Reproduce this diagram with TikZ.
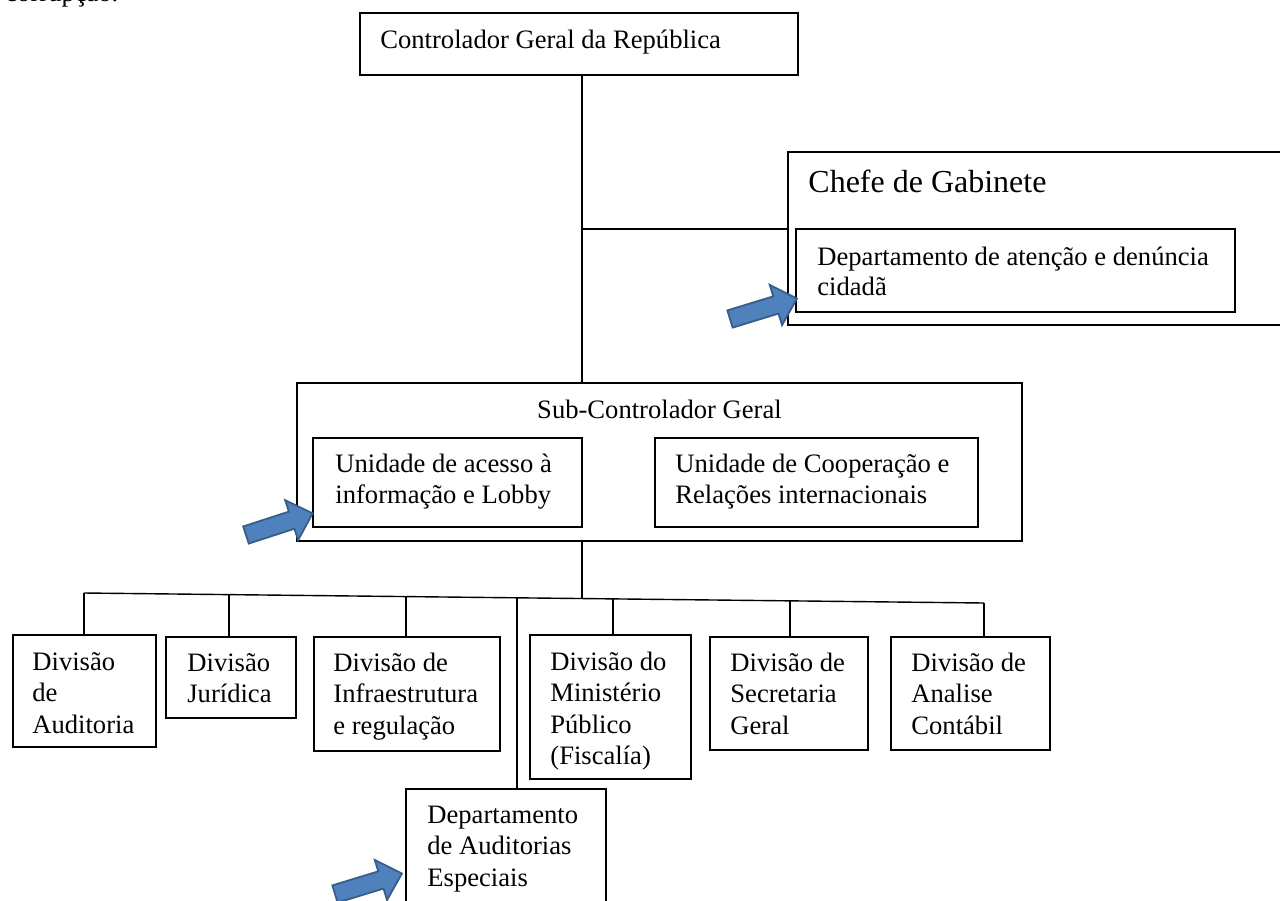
\documentclass[tikz,border=0pt]{standalone}
\usepackage{fontspec}
\setmainfont{Liberation Serif}
\usetikzlibrary{fit}
\definecolor{arrowfill}{RGB}{79,129,189}
\definecolor{arrowline}{RGB}{56,93,138}
\newcommand{\mlines}[1]{\begin{tabular}[t]{@{}l@{}}#1\end{tabular}}
\begin{document}
\begin{tikzpicture}[x=0.5pt,y=-0.5pt,
  box/.style={draw=black, line width=0.7pt, inner sep=0pt, fill=white},
  txt/.style={anchor=base west, inner sep=0pt, font=\fontsize{13.3}{15.75}\selectfont},
  conn/.style={draw=black, line width=0.7pt},
  blockarrow/.pic={\filldraw[fill=arrowfill, draw=arrowline, line width=0.9pt, line join=miter] (0,-9) -- (48,-9) -- (48,-21) -- (70,0) -- (48,21) -- (48,9) -- (0,9) -- cycle;}
]
\useasboundingbox (0,0) rectangle (1280,900);
\clip (0,0) rectangle (1280,900);

% partial line of running text at the very top
\node[txt] (topline) at (5,1.5) {corrupção.};

% top
\node[box, fit={(360,13) (798,75)}] (cgr) {};
\node[txt] (cgrT) at (380,48) {Controlador Geral da República};

% chefe de gabinete
\node[box, fit={(788,152) (1290,325)}] (chefe) {};
\node[txt, font=\fontsize{16}{19}\selectfont] (chefeT) at (808,192) {Chefe de Gabinete};
\node[box, fit={(796,229) (1235,312)}] (datend) {};
\node[txt, font=\fontsize{13.3}{15}\selectfont] (datendT) at (817,265) {\mlines{Departamento de atenção e denúncia\\cidadã}};

% sub-controlador
\node[box, fit={(297,383) (1022,541)}] (sub) {};
\node[anchor=base, inner sep=0pt, font=\fontsize{13.3}{15.75}\selectfont] (subT) at (659.5,418) {Sub-Controlador Geral};
\node[box, fit={(313,438) (582,527)}] (uai) {};
\node[txt] (uaiT) at (335,472) {\mlines{Unidade de acesso à\\informação e Lobby}};
\node[box, fit={(655,438) (978,527)}] (ucri) {};
\node[txt] (ucriT) at (675,472) {\mlines{Unidade de Cooperação e\\Relações internacionais}};

% divisions
\node[box, fit={(13,635) (156,747)}] (aud) {};
\node[txt] (audT) at (32,670) {\mlines{Divisão\\de\\Auditoria}};
\node[box, fit={(166,637) (296,718)}] (jur) {};
\node[txt] (jurT) at (187,671) {\mlines{Divisão\\Jurídica}};
\node[box, fit={(314,637) (500,751)}] (inf) {};
\node[txt] (infT) at (333,671) {\mlines{Divisão de\\Infraestrutura\\e regulação}};
\node[box, fit={(530,635) (691,779)}] (min) {};
\node[txt] (minT) at (550,670) {\mlines{Divisão do\\Ministério\\Público\\(Fiscalía)}};
\node[box, fit={(710,637) (868,750)}] (sec) {};
\node[txt] (secT) at (730,671) {\mlines{Divisão de\\Secretaria\\Geral}};
\node[box, fit={(891,637) (1050,750)}] (ana) {};
\node[txt] (anaT) at (911,671) {\mlines{Divisão de\\Analise\\Contábil}};
\node[box, fit={(406,789) (606,925)}] (dae) {};
\node[txt] (daeT) at (427,823) {\mlines{Departamento\\de Auditorias\\Especiais}};

% connectors
\coordinate (j1) at (582,229);
\draw[conn] (cgr.south -| j1) -- (sub.north -| j1);
\draw[conn] (j1) -- (chefe.west |- j1);
\coordinate (j2) at (582,598.5);
\draw[conn] (sub.south -| j2) -- (j2);
\coordinate (busL) at (84,593);
\coordinate (busR) at (984,603);
\draw[conn] (busL) -- (busR);
\coordinate (b2) at (229,594.6);
\coordinate (b3) at (406,596.6);
\coordinate (b4) at (517,597.8);
\coordinate (b5) at (613,598.9);
\coordinate (b6) at (790,600.8);
\draw[conn] (busL) -- (aud.north -| busL);
\draw[conn] (b2) -- (jur.north -| b2);
\draw[conn] (b3) -- (inf.north -| b3);
\draw[conn] (b4) -- (dae.north -| b4);
\draw[conn] (b5) -- (min.north -| b5);
\draw[conn] (b6) -- (sec.north -| b6);
\draw[conn] (busR) -- (ana.north -| busR);

% blue block arrows
\pic[rotate=17] at (730,319) {blockarrow};
\pic[rotate=18] at (246,535) {blockarrow};
\pic[rotate=17] at (335,894) {blockarrow};
\end{tikzpicture}
\end{document}
